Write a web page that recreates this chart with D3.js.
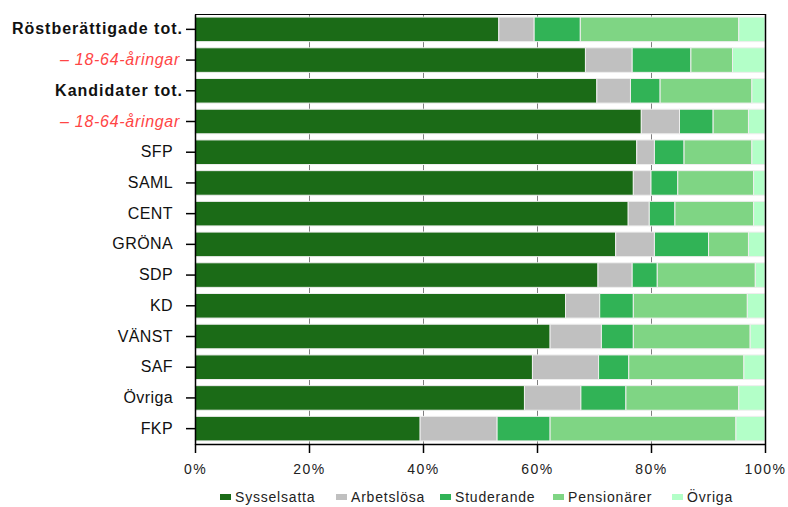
<!DOCTYPE html>
<html><head><meta charset="utf-8">
<script src="https://cdn.jsdelivr.net/npm/d3@7"></script>
<style>body{margin:0;background:#fff}svg{display:block}text{font-family:"Liberation Sans",Arial,sans-serif}</style>
</head><body>
<script>
const categories = ["Röstberättigade tot.","– 18-64-åringar","Kandidater tot.","– 18-64-åringar","SFP","SAML","CENT","GRÖNA","SDP","KD","VÄNST","SAF","Övriga","FKP"];
const categoryStyle = ["bold","red","bold","red","n","n","n","n","n","n","n","n","n","n"];
const seriesNames = ["Sysselsatta","Arbetslösa","Studerande","Pensionärer","Övriga"];
const sysselsatta = [53.3,68.5,70.5,78.3,77.5,76.9,76.0,73.8,70.7,65.0,62.3,59.2,57.8,39.5];
const arbetslosa  = [6.2,8.2,5.9,6.7,3.1,3.1,3.7,6.8,6.0,6.0,9.0,11.6,9.9,13.5];
const studerande  = [8.1,10.3,5.2,5.9,5.2,4.7,4.5,9.5,4.4,5.9,5.6,5.3,7.9,9.3];
const pensionarer = [27.8,7.3,16.1,6.2,11.9,13.3,13.8,7.0,17.2,20.0,20.5,20.2,19.8,32.6];
const ovriga      = [4.6,5.7,2.3,2.9,2.3,2.0,2.0,2.9,1.7,3.1,2.6,3.7,4.6,5.1];
const xTicks = [0,20,40,60,80,100];
const colors = ["#1b6b17","#c0c0c0","#31b356","#7fd584","#b3ffc8"];

const W=788,H=507, L=195,R=765,T=14,B=444;
const svg=d3.select("body").append("svg").attr("width",W).attr("height",H);
const x=d3.scaleLinear().domain([0,100]).range([L,R]);
const y=d3.scaleBand().domain(d3.range(categories.length)).range([T,B]).paddingInner(0.2).paddingOuter(0.1);

// gridlines
svg.append("g").selectAll("line").data(xTicks.filter(t=>t>0&&t<100)).join("line")
  .attr("x1",d=>x(d)+0.5).attr("x2",d=>x(d)+0.5).attr("y1",T).attr("y2",B)
  .attr("stroke","#808080").attr("stroke-width",1);

const table=categories.map((c,i)=>({i,Sysselsatta:sysselsatta[i],"Arbetslösa":arbetslosa[i],Studerande:studerande[i],"Pensionärer":pensionarer[i],"Övriga":ovriga[i]}));
const stack=d3.stack().keys(seriesNames)(table);
svg.append("g").selectAll("g").data(stack).join("g").attr("fill",(d,k)=>colors[k])
  .selectAll("rect").data(d=>d).join("rect")
  .attr("x",d=>x(d[0])).attr("width",d=>Math.min(x(d[1]),R)-x(d[0]))
  .attr("y",(d)=>y(d.data.i)).attr("height",y.bandwidth())
  .attr("stroke","#eeeeee").attr("stroke-width",1);

// frame
svg.append("line").attr("x1",L).attr("x2",R).attr("y1",T+0.5).attr("y2",T+0.5).attr("stroke","#000");
svg.append("line").attr("x1",R+0.5).attr("x2",R+0.5).attr("y1",T).attr("y2",B).attr("stroke","#000").attr("stroke-width",1.5);

// x axis
const xa=svg.append("g").attr("transform",`translate(0,${B})`).call(d3.axisBottom(x).tickValues(xTicks).tickFormat(d=>d+"%").tickSize(9).tickSizeOuter(0));
xa.select(".domain").attr("stroke","#000").attr("stroke-width",1.5);
xa.selectAll(".tick line").attr("stroke","#000").attr("stroke-width",1.5);
xa.selectAll("text").attr("font-size",14).attr("fill","#222").attr("y",25).attr("dy","0.35em").attr("letter-spacing","1.5px");

// y axis
const ya=svg.append("g").attr("transform",`translate(${L},0)`).call(d3.axisLeft(y).tickFormat(i=>categories[i]).tickSize(9).tickSizeOuter(0));
ya.select(".domain").attr("stroke","#000").attr("stroke-width",1.5);
ya.selectAll(".tick line").attr("stroke","#000").attr("stroke-width",1.5);
ya.selectAll("text").attr("font-size",16).attr("fill",i=>categoryStyle[i]==="red"?"#ff4545":"#111")
  .attr("font-weight",i=>categoryStyle[i]==="bold"?"bold":"normal")
  .attr("font-style",i=>categoryStyle[i]==="red"?"italic":"normal")
  .attr("letter-spacing",i=>categoryStyle[i]==="bold"?"1px":categoryStyle[i]==="red"?"0.7px":"0.4px")
  .attr("x",i=>categoryStyle[i]==="bold"?-12:categoryStyle[i]==="red"?-15:-22);

// legend
const legX=[220,336,440,553,672];
const lg=svg.append("g").selectAll("g").data(seriesNames).join("g").attr("transform",(d,k)=>`translate(${legX[k]},497)`);
lg.append("rect").attr("x",0).attr("y",-3).attr("width",11).attr("height",6).attr("fill",(d,k)=>colors[k]);
lg.append("text").attr("x",15).attr("y",0).attr("dy","0.35em").attr("font-size",14).attr("fill","#222").attr("letter-spacing","0.8px").text(d=>d);
</script>
</body></html>
